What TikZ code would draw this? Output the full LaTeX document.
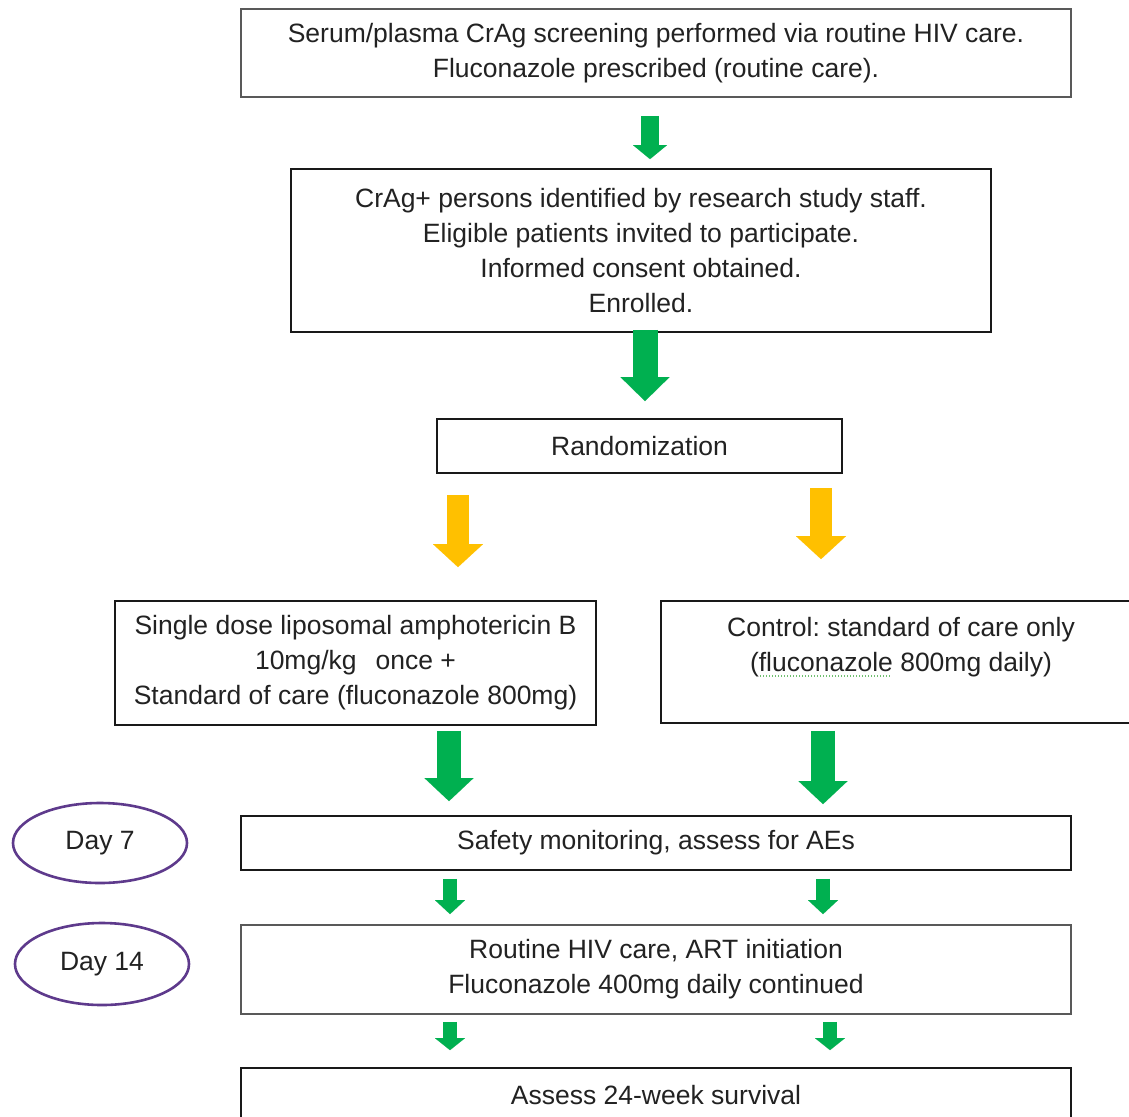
\documentclass[tikz,border=0pt]{standalone}
\usepackage{fontspec}
\setmainfont{Liberation Sans}
\usetikzlibrary{arrows.meta,shapes.geometric}
\definecolor{okgreen}{HTML}{00B050}
\definecolor{okyellow}{HTML}{FFC000}
\definecolor{ovalpurple}{HTML}{5E3A8C}
\definecolor{txtcol}{HTML}{222222}
\definecolor{spellgreen}{HTML}{6FBF6F}
\newsavebox{\spellbox}
\newcommand{\spellmark}[1]{\sbox{\spellbox}{#1}\rlap{\raisebox{-5pt}{\color{spellgreen}\leaders\hbox to 3pt{\hss\rule{1.3pt}{1.3pt}\hss}\hskip\wd\spellbox}}\usebox{\spellbox}}
\frenchspacing
\begin{document}
\begin{tikzpicture}[x=1pt,y=-1pt,
  every node/.style={font=\fontsize{26.5}{35}\selectfont, text=txtcol, align=center, inner sep=0pt},
  flowbox/.style={draw=black!90, line width=1.8pt, rectangle},
  greybox/.style={draw=black!65, line width=1.8pt, rectangle},
  dayoval/.style={draw=ovalpurple, line width=2.6pt, ellipse},
  blockarrow/.style n args={4}{draw=#1, line width=#2, line cap=butt,
     -{Triangle[width=#3,length=#4,line width=0.01pt]}}
]
\clip (0,0) rectangle (1129,1116);
\fill[white] (0,0) rectangle (1129,1116);

% boxes
\node[greybox, minimum width=830pt, minimum height=88pt] (top) at (656,53)
  {Serum/plasma CrAg screening performed via routine HIV care.\\Fluconazole prescribed (routine care).};
\node[flowbox, minimum width=700pt, minimum height=163pt] (enrol) at (641,250.5)
  {CrAg+ persons identified by research study staff.\\Eligible patients invited to participate.\\Informed consent obtained.\\Enrolled.};
\node[flowbox, minimum width=405pt, minimum height=54pt] (rand) at (639.5,446) {Randomization};
\node[flowbox, minimum width=481pt, minimum height=124pt] (left) at (355.5,663)
  {Single dose liposomal amphotericin B\\10mg/kg\hspace{19pt}once +\\Standard of care (fluconazole 800mg)};
\node[flowbox, minimum width=480pt, minimum height=122pt] (right) at (901,662)
  {Control: standard of care only\\(\spellmark{fluconazole} 800mg daily)\\\mbox{}};
\node[flowbox, minimum width=830pt, minimum height=54pt] (safety) at (656,843) {Safety monitoring, assess for AEs};
\node[greybox, minimum width=830pt, minimum height=89pt] (routine) at (656,969.5)
  {Routine HIV care, ART initiation\\Fluconazole 400mg daily continued};
\node[flowbox, minimum width=830pt, minimum height=54pt] (survival) at (656,1095) {Assess 24-week survival};

% day ovals
\node[dayoval, minimum width=174pt, minimum height=80pt] (day7) at (100,843) {Day 7};
\node[dayoval, minimum width=174pt, minimum height=82pt] (day14) at (102,964) {Day 14};

% arrow columns
\coordinate (c1) at (650,0);
\coordinate (c2) at (645,0);
\coordinate (cl) at (458,0);
\coordinate (cr) at (821,0);
\coordinate (gl) at (449,0);
\coordinate (gr) at (823,0);
\coordinate (sl) at (450,0);
\coordinate (sr) at (823,0);
\coordinate (sr2) at (830,0);

% arrows
\draw[blockarrow={okgreen}{18pt}{34pt}{14pt}, shorten <=18pt, shorten >=9pt]
  (top.south -| c1) -- (enrol.north -| c1);
\draw[blockarrow={okgreen}{25pt}{49pt}{24pt}, shorten <=-3pt, shorten >=17pt]
  (enrol.south -| c2) -- (rand.north -| c2);
\draw[blockarrow={okyellow}{22pt}{50pt}{23pt}, shorten <=21pt, shorten >=33pt]
  (rand.south -| cl) -- (left.north -| cl);
\draw[blockarrow={okyellow}{22pt}{50pt}{23pt}, shorten <=14pt, shorten >=41pt]
  (rand.south -| cr) -- (right.north -| cr);
\draw[blockarrow={okgreen}{24pt}{49pt}{23pt}, shorten <=5pt, shorten >=14pt]
  (left.south -| gl) -- (safety.north -| gl);
\draw[blockarrow={okgreen}{24pt}{49pt}{23pt}, shorten <=7pt, shorten >=11pt]
  (right.south -| gr) -- (safety.north -| gr);
\draw[blockarrow={okgreen}{14pt}{30pt}{14pt}, shorten <=8pt, shorten >=10pt]
  (safety.south -| sl) -- (routine.north -| sl);
\draw[blockarrow={okgreen}{14pt}{30pt}{14pt}, shorten <=8pt, shorten >=10pt]
  (safety.south -| sr) -- (routine.north -| sr);
\draw[blockarrow={okgreen}{14pt}{30pt}{12pt}, shorten <=7pt, shorten >=17pt]
  (routine.south -| sl) -- (survival.north -| sl);
\draw[blockarrow={okgreen}{14pt}{30pt}{12pt}, shorten <=7pt, shorten >=17pt]
  (routine.south -| sr2) -- (survival.north -| sr2);
\end{tikzpicture}
\end{document}
